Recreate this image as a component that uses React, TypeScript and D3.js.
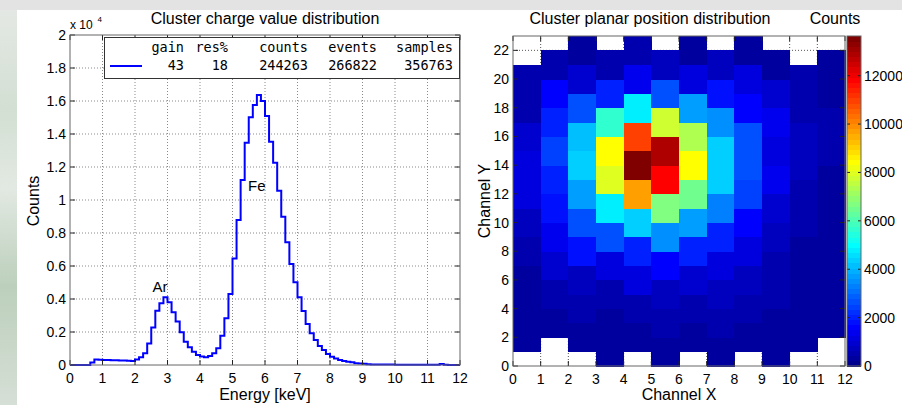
import React from "react";
import * as d3 from "d3";

const W = 902;
const H = 405;

// cluster charge histogram, 0.125 keV bins from 0 to 12 keV
const binWidth = 0.125;
const chargeCounts = [
  0, 0, 0, 0, 0, 150, 330, 320, 300, 300, 290, 290, 280, 270, 260, 250,
  330, 470, 710, 1310, 2280, 3290, 3740, 4100, 3800, 3190, 2630, 1980, 1410, 1070, 810, 610,
  510, 470, 545, 710, 1010, 1780, 2830, 4300, 6460, 8790, 11210, 13470, 15010, 15760, 16360, 16000,
  15090, 13530, 12260, 10560, 8990, 7440, 6120, 5010, 4100, 3270, 2490, 1920, 1510, 1150, 910, 670,
  505, 400, 300, 240, 200, 160, 110, 90, 70, 40, 35, 30, 30, 28, 25, 25,
  22, 22, 20, 20, 18, 18, 16, 15, 15, 14, 12, 60, 10, 5, 3, 2,
];
const energyTicks = d3.range(0, 13);
const countTicks = d3.range(0, 20001, 2000);
const legendHeader = ["gain", "res%", "counts", "events", "samples"];
const legendValues = ["43", "18", "244263", "266822", "356763"];
const peakLabels = [
  { text: "Ar", energy: 2.77, count: 4700 },
  { text: "Fe", energy: 5.75, count: 10850 },
];

// planar position: 12 channel columns, each 11 cells two channels tall (bottom to top).
// even columns start at Y=1, odd columns at Y=0; null = no pixel
const positionCounts: (number | null)[][] = [
  [330, 220, 330, 430, 750, 1080, 1180, 970, 540, 430, null],
  [null, 360, 540, 860, 1290, 1705, 2130, 2345, 2130, 1500, 540],
  [330, 430, 750, 1800, 2560, 3630, 4380, 4060, 2560, 860, 220],
  [220, 360, 540, 1180, 2700, 4900, 8000, 8500, 5750, 1920, 430],
  [330, 540, 1080, 2130, 4270, 9800, 13640, 11080, 4700, 1290, 430],
  [360, 540, 750, 1700, 3410, 6610, 11730, 12990, 7680, 2560, 650],
  [330, 430, 860, 2130, 3630, 6400, 8500, 7260, 3630, 1080, 330],
  [220, 430, 650, 1180, 1920, 3200, 4270, 4380, 3410, 1800, 650],
  [220, 430, 650, 1080, 1500, 2345, 2560, 2560, 1600, 1180, 220],
  [330, 330, 430, 540, 750, 970, 1290, 1180, 1290, 860, 330],
  [220, 220, 330, 330, 430, 540, 650, 650, 540, 430, null],
  [null, 220, 220, 220, 220, 220, 330, 430, 430, 330, 220],
];
const colorMax = 13640;
const channelXTicks = d3.range(0, 13);
const channelYTicks = d3.range(0, 23, 2);
const colorbarTicks = d3.range(0, 12001, 2000);

const sans = "'Liberation Sans', Arial, sans-serif";
const mono = "'DejaVu Sans Mono', monospace";
const frameColor = "#666";
const gridColor = "#8a8a8a";

// matlab jet(64) lookup
const jet = (v: number) => {
  const i = Math.min(64, Math.max(1, Math.floor((v / colorMax) * 64) + 1));
  const t = i / 64;
  const c = (a: number) => Math.round(255 * Math.max(0, Math.min(1, a)));
  const r = c(Math.min(4 * t - 1.5, -4 * t + 4.5));
  const g = c(Math.min(4 * t - 0.5, -4 * t + 3.5));
  const b = c(Math.min(4 * t + 0.5, -4 * t + 2.5));
  return `rgb(${r},${g},${b})`;
};

export default function App() {
  // left: charge spectrum
  const x = d3.scaleLinear().domain([0, 12]).range([70, 460]);
  const y = d3.scaleLinear().domain([0, 20000]).range([365, 35]);
  const pts: [number, number][] = chargeCounts.map((c, i) => [i * binWidth, c]);
  pts.push([12, chargeCounts[chargeCounts.length - 1]]);
  const stairs = d3
    .line<[number, number]>()
    .x((d) => x(d[0]))
    .y((d) => y(d[1]))
    .curve(d3.curveStepAfter)(pts) as string;

  // right: position map
  const hx = d3.scaleLinear().domain([0, 12]).range([513, 845]);
  const hy = d3.scaleLinear().domain([0, 23]).range([366, 36]);
  const cy = d3.scaleLinear().domain([0, colorMax]).range([366, 36]);
  const cells: { c: number; y0: number; v: number }[] = [];
  positionCounts.forEach((col, c) =>
    col.forEach((v, k) => {
      if (v !== null) cells.push({ c, y0: (c % 2 === 0 ? 1 : 0) + 2 * k, v });
    })
  );
  const bands = d3.range(64).map((i) => (i * colorMax) / 64);

  const legendEnds = [184, 228, 308, 377, 453];

  return (
    <svg
      width={W}
      height={H}
      style={{ position: "fixed", left: 0, top: 0 }}
      fontFamily={sans}
    >
      <defs>
        <linearGradient id="side" x1="0" y1="0" x2="0" y2="1">
          <stop offset="0" stopColor="#e4e8e4" />
          <stop offset="0.25" stopColor="#d3dfd3" />
          <stop offset="0.45" stopColor="#e2e9e2" />
          <stop offset="0.7" stopColor="#bccfbc" />
          <stop offset="1" stopColor="#d6dfd6" />
        </linearGradient>
      </defs>
      <rect x={0} y={0} width={W} height={H} fill="#e3e3e3" />
      <rect x={0} y={10} width={17} height={H - 10} fill="url(#side)" />
      <rect x={17} y={10} width={W - 17} height={H - 10} fill="#fff" />

      {/* ---------- left chart ---------- */}
      <g>
        {energyTicks.slice(1, -1).map((t) => (
          <line key={"gx" + t} x1={x(t)} x2={x(t)} y1={y(0)} y2={y(20000)}
            stroke={gridColor} strokeDasharray="1,2" />
        ))}
        {countTicks.slice(1, -1).map((t) => (
          <line key={"gy" + t} x1={x(0)} x2={x(12)} y1={y(t)} y2={y(t)}
            stroke={gridColor} strokeDasharray="1,2" />
        ))}
        <path d={stairs} fill="none" stroke="#0000ff" strokeWidth={2} />
        {energyTicks.map((t) => (
          <g key={"tx" + t}>
            <line x1={x(t)} x2={x(t)} y1={y(0)} y2={y(0) - 5} stroke="#222" />
            <line x1={x(t)} x2={x(t)} y1={y(20000)} y2={y(20000) + 5} stroke="#222" />
            <text x={x(t)} y={y(0) + 18} textAnchor="middle" fontSize={14}>{t}</text>
          </g>
        ))}
        {countTicks.map((t) => (
          <g key={"ty" + t}>
            <line x1={x(0)} x2={x(0) + 5} y1={y(t)} y2={y(t)} stroke="#222" />
            <line x1={x(12)} x2={x(12) - 5} y1={y(t)} y2={y(t)} stroke="#222" />
            <text x={x(0) - 4} y={y(t) + 5} textAnchor="end" fontSize={14}>
              {d3.format("~g")(t / 10000)}
            </text>
          </g>
        ))}
        <rect x={x(0)} y={y(20000)} width={x(12) - x(0)} height={y(0) - y(20000)}
          fill="none" stroke={frameColor} />
        <text x={70} y={29} fontSize={12}>x 10</text>
        <text x={97.5} y={22} fontSize={8}>4</text>

        {/* legend */}
        <rect x={104.5} y={37.5} width={355} height={41} fill="#fff" stroke="#333" />
        <line x1={110} x2={142} y1={66} y2={66} stroke="#0000ff" strokeWidth={2} />
        {legendHeader.map((s, i) => (
          <text key={"lh" + i} x={legendEnds[i]} y={52} textAnchor="end"
            fontFamily={mono} fontSize={13.5}>{s}</text>
        ))}
        {legendValues.map((s, i) => (
          <text key={"lv" + i} x={legendEnds[i]} y={70} textAnchor="end"
            fontFamily={mono} fontSize={13.5}>{s}</text>
        ))}

        {peakLabels.map((p) => (
          <text key={p.text} x={x(p.energy)} y={y(p.count) + 5} textAnchor="middle" fontSize={15}>
            {p.text}
          </text>
        ))}
        <text x={265} y={24} textAnchor="middle" fontSize={16}>Cluster charge value distribution</text>
        <text x={265} y={400} textAnchor="middle" fontSize={16}>Energy [keV]</text>
        <text transform="translate(39,201) rotate(-90)" textAnchor="middle" fontSize={16}>Counts</text>
      </g>

      {/* ---------- right chart ---------- */}
      <g>
        {channelXTicks.slice(1, -1).map((t) => (
          <line key={"hgx" + t} x1={hx(t)} x2={hx(t)} y1={hy(0)} y2={hy(23)}
            stroke="#555" strokeDasharray="1,2" />
        ))}
        {channelYTicks.slice(1).map((t) => (
          <line key={"hgy" + t} x1={hx(0)} x2={hx(12)} y1={hy(t)} y2={hy(t)}
            stroke="#555" strokeDasharray="1,2" />
        ))}
        {cells.map((d, i) => (
          <rect key={"c" + i} x={hx(d.c)} y={hy(d.y0 + 2)} width={hx(d.c + 1) - hx(d.c) + 0.5}
            height={hy(d.y0) - hy(d.y0 + 2) + 0.5} fill={jet(d.v)} shapeRendering="crispEdges" />
        ))}
        {channelXTicks.map((t) => (
          <g key={"htx" + t}>
            <line x1={hx(t)} x2={hx(t)} y1={hy(0)} y2={hy(0) - 5} stroke="#222" />
            <line x1={hx(t)} x2={hx(t)} y1={hy(23)} y2={hy(23) + 5} stroke="#222" />
            <text x={hx(t)} y={hy(0) + 18} textAnchor="middle" fontSize={14}>{t}</text>
          </g>
        ))}
        {channelYTicks.map((t) => (
          <g key={"hty" + t}>
            <line x1={hx(0)} x2={hx(0) + 5} y1={hy(t)} y2={hy(t)} stroke="#222" />
            <line x1={hx(12)} x2={hx(12) - 5} y1={hy(t)} y2={hy(t)} stroke="#222" />
            <text x={hx(0) - 4} y={hy(t) + 5} textAnchor="end" fontSize={14}>{t}</text>
          </g>
        ))}
        <rect x={hx(0)} y={hy(23)} width={hx(12) - hx(0)} height={hy(0) - hy(23)}
          fill="none" stroke={frameColor} />

        {/* colorbar */}
        {bands.map((b, i) => (
          <rect key={"b" + i} x={847} y={cy(b + colorMax / 64)} width={14}
            height={cy(b) - cy(b + colorMax / 64) + 0.5} fill={jet(b + 1)} shapeRendering="crispEdges" />
        ))}
        {colorbarTicks.map((t) => (
          <g key={"cb" + t}>
            <line x1={847} x2={850} y1={cy(t)} y2={cy(t)} stroke="#222" />
            <line x1={861} x2={858} y1={cy(t)} y2={cy(t)} stroke="#222" />
            <text x={864} y={cy(t) + 5} fontSize={14}>{t}</text>
          </g>
        ))}
        <rect x={847} y={cy(colorMax)} width={14} height={cy(0) - cy(colorMax)}
          fill="none" stroke={frameColor} />

        <text x={650} y={24} textAnchor="middle" fontSize={16}>Cluster planar position distribution</text>
        <text x={835} y={24} textAnchor="middle" fontSize={16}>Counts</text>
        <text x={679} y={400} textAnchor="middle" fontSize={16}>Channel X</text>
        <text transform="translate(490,201) rotate(-90)" textAnchor="middle" fontSize={16}>Channel Y</text>
      </g>
    </svg>
  );
}
